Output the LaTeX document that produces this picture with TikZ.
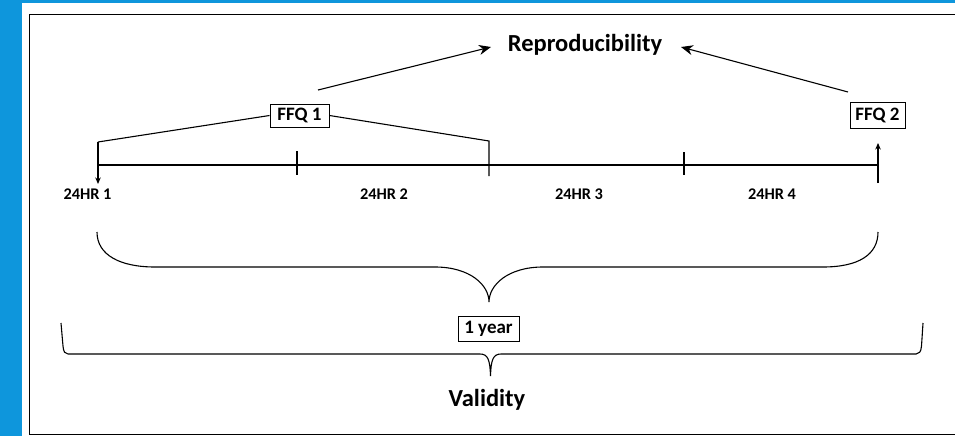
\documentclass[tikz,border=0pt]{standalone}
\usepackage{fontspec}
\setmainfont{Carlito}
\usetikzlibrary{arrows.meta}
\definecolor{bgblue}{RGB}{14,150,220}
\begin{document}
\begin{tikzpicture}[x=1pt,y=-1pt,line width=1.1pt,
  box/.style={draw,line width=1pt,inner sep=0pt,font=\bfseries\fontsize{19}{22}\selectfont},
  title/.style={font=\bfseries\fontsize{24.5}{28}\selectfont,inner sep=0pt},
  hr/.style={font=\bfseries\fontsize{16.3}{18}\selectfont,inner sep=0pt},
  small/.style={-{Stealth[length=6.5pt,width=5.5pt]}},
  big/.style={-{Stealth[length=12pt,width=10pt]}}]
\useasboundingbox (0,0) rectangle (955,436);
\fill[bgblue] (0,0) rectangle (955,436);
\fill[white] (22,3) rectangle (955,436);
\draw[line width=1.6pt] (955,14.5) -- (29.5,14.5) -- (29.5,434.5) -- (955,434.5);

% nodes
\node[title] (rep) at (585,45) {Reproducibility};
\node[box,minimum width=59pt,minimum height=23pt] (ffq1) at (299.5,115.5) {FFQ 1};
\node[box,minimum width=55pt,minimum height=26pt] (ffq2) at (877.5,115) {FFQ 2};
\node[box,minimum width=61pt,minimum height=25pt] (year) at (488.5,328.5) {1 year};
\node[title] (val) at (487,400) {Validity};
\node[hr] (h1) at (87.5,194) {24HR 1};
\node[hr] (h2) at (384,194) {24HR 2};
\node[hr] (h3) at (579,194) {24HR 3};
\node[hr] (h4) at (772,194) {24HR 4};

% coordinates
\coordinate (t0) at (98,165);
\coordinate (t4) at (878,165);
\coordinate (a0) at (98,142);
\coordinate (b0) at (98,184);
\coordinate (a2) at (489,141);
\coordinate (b2) at (489,176);
\coordinate (k1a) at (297,151);
\coordinate (k1b) at (297,175);
\coordinate (k3a) at (684,152);
\coordinate (k3b) at (684,175);
\coordinate (a4) at (878,183);
\coordinate (b4) at (878,143);
\coordinate (s1) at (318,90);
\coordinate (r1) at (491,47);
\coordinate (s2) at (848,92);
\coordinate (r2) at (681,47);

% timeline
\draw (t0) -- (t4);
\draw (k1a) -- (k1b);
\draw (k3a) -- (k3b);
\draw[small] (a0) -- (b0);
\draw (ffq1.west) -- (a0);
\draw (ffq1.east) -- (a2) -- (b2);
\draw[small] (a4) -- (b4);

% reproducibility arrows
\draw[big] (s1) -- (r1);
\draw[big] (s2) -- (r2);

% upper brace
\draw (97,232) .. controls (97,255) and (120,267) .. (155,267) -- (435,267)
  .. controls (470,267) and (489,285) .. (489,302)
  .. controls (489,285) and (508,267) .. (543,267) -- (823,267)
  .. controls (858,267) and (878,255) .. (878,232);

% lower brace
\draw (61,323) -- (63,346) .. controls (63.5,352) and (65,354) .. (68,354) -- (480,354)
  .. controls (488,354) and (490,360) .. (490.5,376)
  .. controls (491,360) and (493,354) .. (501,354) -- (916,354)
  .. controls (919,354) and (921,352) .. (921.5,346) -- (923,323);
\end{tikzpicture}
\end{document}
